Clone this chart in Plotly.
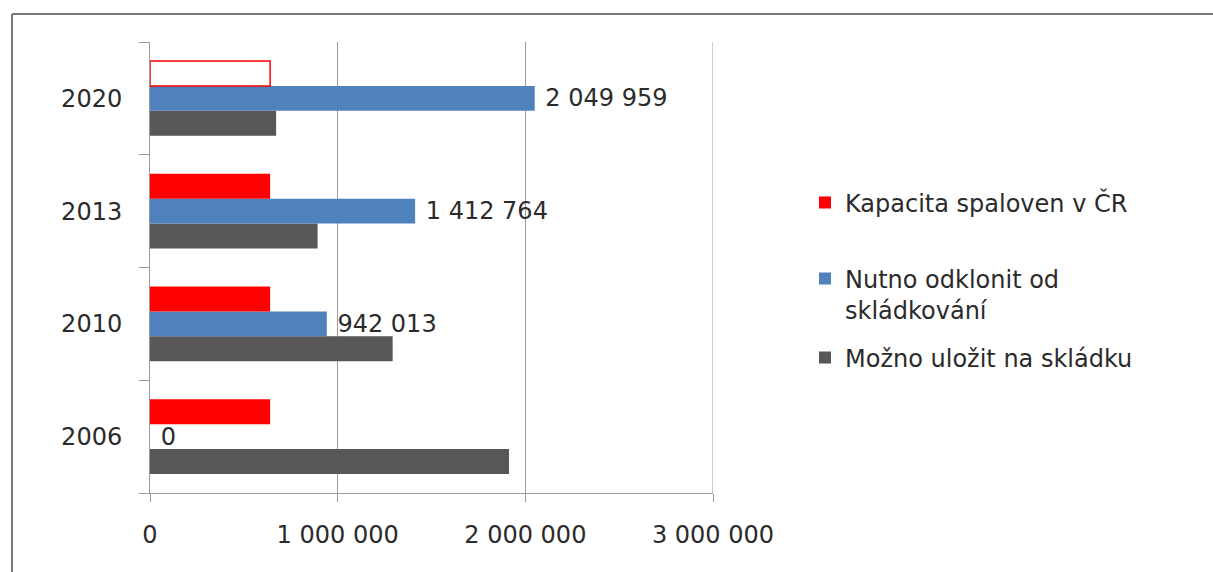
import plotly.graph_objects as go

years = ["2006", "2010", "2013", "2020"]
kapacita = [640000, 640000, 640000, 640000]
nutno = [0, 942013, 1412764, 2049959]
mozno = [1913000, 1293000, 893000, 672000]
x_ticks = [0, 1000000, 2000000, 3000000]

name_kap = "Kapacita spaloven v ČR"
name_nut = "Nutno odklonit od<br>skládkování"
name_moz = "Možno uložit na skládku"

RED = "#FF0000"
BLUE = "#4F81BD"
GRAY = "#575757"
TXT = "#2b2b2b"
GRID = "#9a9a9a"
FONT = "DejaVu Sans"

fig = go.Figure()
fig.add_trace(go.Bar(
    y=years, x=mozno, orientation="h", name=name_moz,
    marker=dict(color=GRAY, line=dict(width=0)),
    legend="legend3", showlegend=True,
))
fig.add_trace(go.Bar(
    y=years, x=nutno, orientation="h", name=name_nut,
    marker=dict(color=BLUE, line=dict(width=0)),
    texttemplate="\u00a0%{x:,d}", textposition="outside",
    textfont=dict(size=24, color=TXT, family=FONT),
    constraintext="none", cliponaxis=False,
    legend="legend2", showlegend=True,
))
fig.add_trace(go.Bar(
    y=years, x=kapacita, orientation="h", name=name_kap,
    marker=dict(color=[RED, RED, RED, "#FFFFFF"],
                line=dict(color=RED, width=[0, 0, 0, 1.5])),
    legend="legend", showlegend=True,
))

W, H = 1213, 572
L, R, T, B = 150, 500, 42, 79
pw = W - L - R
ph = H - T - B

def px(x):
    return (x - L) / pw

def py(y):
    return (H - B - y) / ph

leg_common = dict(font=dict(size=24, color=TXT, family=FONT),
                  bgcolor="rgba(0,0,0,0)", xanchor="left", yanchor="middle",
                  x=px(805), valign="top", visible=True)

fig.update_layout(
    width=W, height=H,
    margin=dict(l=L, r=R, t=T, b=B),
    paper_bgcolor="white", plot_bgcolor="white",
    barmode="group", bargap=0.336, bargroupgap=0,
    separators=", ",
    showlegend=True,
    font=dict(family=FONT, size=24, color=TXT),
    legend=dict(y=py(203), **leg_common),
    legend2=dict(y=py(294.5), **leg_common),
    legend3=dict(y=py(358), **leg_common),
    xaxis=dict(
        range=[x_ticks[0], x_ticks[-1]], tickvals=x_ticks,
        tickformat=",d", showgrid=True, gridcolor=GRID, gridwidth=1,
        zeroline=False, showline=True, linecolor=GRID, linewidth=1,
        ticks="outside", ticklen=8, tickcolor=GRID,
        tickfont=dict(size=24, color=TXT, family=FONT),
        ticklabelstandoff=12,
    ),
    yaxis=dict(
        type="category", categoryorder="array", categoryarray=years,
        showgrid=False, zeroline=False, showline=True, linecolor=GRID,
        linewidth=1, ticks="outside", ticklen=10, tickcolor=GRID,
        tickson="boundaries",
        tickfont=dict(size=24, color=TXT, family=FONT),
        ticklabelstandoff=22,
    ),
    shapes=[
        # right-edge gridline at the last x tick
        dict(type="line", xref="x", yref="paper",
             x0=x_ticks[-1], x1=x_ticks[-1], y0=0, y1=1,
             line=dict(color=GRID, width=1), layer="below"),
        # outer frame (top and left edges)
        dict(type="line", xref="paper", yref="paper",
             x0=px(12), x1=px(1213), y0=py(14), y1=py(14),
             line=dict(color="#7a7a7a", width=2)),
        dict(type="line", xref="paper", yref="paper",
             x0=px(12), x1=px(12), y0=py(14), y1=py(572),
             line=dict(color="#7a7a7a", width=2)),
    ],
)

fig.write_html("out.html")
